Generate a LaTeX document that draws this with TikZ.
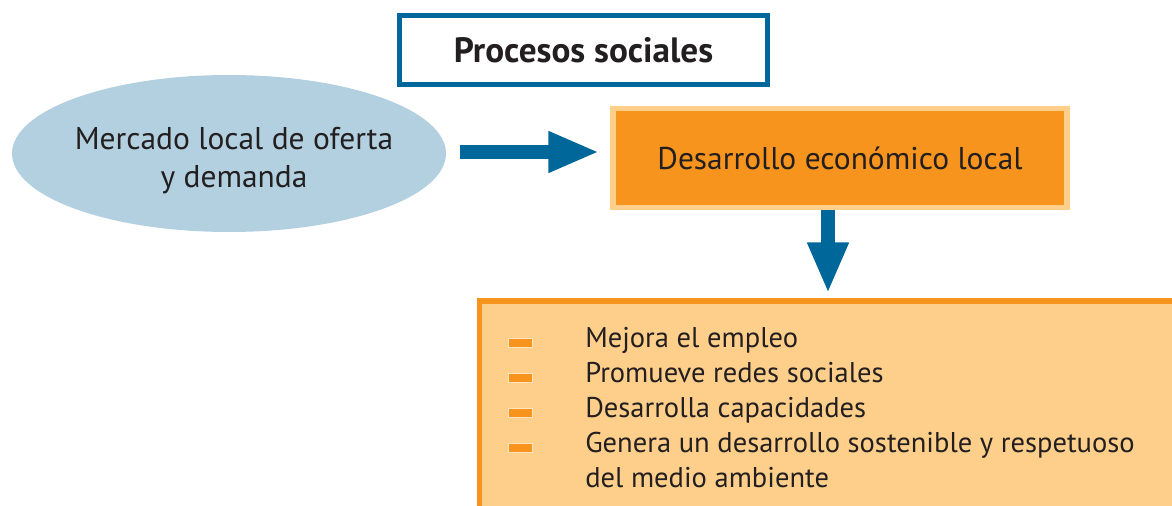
\documentclass[tikz,border=0pt]{standalone}
\usepackage{fontspec}
\setmainfont{PT Sans}
\usetikzlibrary{shapes.geometric,arrows.meta}
\definecolor{procblue}{RGB}{0,103,154}
\definecolor{skyblue}{RGB}{179,208,224}
\definecolor{deeporange}{RGB}{247,148,30}
\definecolor{paleorange}{RGB}{253,207,138}
\definecolor{inkgrey}{RGB}{35,31,32}
\tikzset{
  bigarrow/.style={draw=procblue,line width=10.5pt,-{Triangle[length=38.25pt,width=28.5pt]}},
  itembar/.style={rectangle,fill=deeporange,draw=white!45!paleorange,line width=0.6pt,
    minimum width=18pt,minimum height=6.75pt,inner sep=0pt},
  itemtext/.style={anchor=base west,inner sep=0pt,text=inkgrey,font=\fontsize{21.4pt}{26pt}\selectfont}
}
\begin{document}
\begin{tikzpicture}[x=0.75pt,y=-0.75pt]
    \useasboundingbox (0,0) rectangle (1172,506);
    \clip (0,0) rectangle (1172,506);

    \node[draw=procblue,line width=3.75pt,fill=white,minimum width=276pt,minimum height=51.75pt,
      inner sep=0pt,text=inkgrey,font=\bfseries\fontsize{26.4pt}{32pt}\selectfont] (title) at (583.5,50) {Procesos sociales};
    \node[ellipse,fill=skyblue,minimum width=325.5pt,minimum height=117.75pt,inner sep=0pt] (market) at (229,153.5) {};
    \node[align=center,inner sep=0pt,text=inkgrey,font=\fontsize{23.6pt}{28.5pt}\selectfont]
      (marketlabel) at (234,161) {Mercado local de oferta\\y demanda};
    \node[fill=deeporange,draw=paleorange,line width=4pt,minimum width=340.5pt,minimum height=74.25pt,
      inner sep=0pt,text=inkgrey,font=\fontsize{23.6pt}{28.5pt}\selectfont] (devel) at (840,158) {Desarrollo económico local};
    \node[fill=paleorange,draw=deeporange,line width=4pt,anchor=north west,minimum width=530pt,
      minimum height=170pt] (effects) at (477,298.5) {};

    % arrows
    \coordinate (midrow) at (0,152);
    \coordinate (downcol) at (828,0);
    \draw[bigarrow,shorten <=10.5pt,shorten >=8.25pt] (market.east |- midrow) -- (devel.west |- midrow);
    \draw[bigarrow,shorten >=3.75pt] (devel.south -| downcol) -- (effects.north -| downcol);

    % list of effects
    \node[itembar] (bar1) at (520,342.5) {};
    \node[itembar] (bar2) at (520,377.5) {};
    \node[itembar] (bar3) at (520,412.5) {};
    \node[itembar] (bar4) at (520,447.5) {};
    \node[itemtext] (item1) at (585,347) {Mejora el empleo};
    \node[itemtext] (item2) at (585,382) {Promueve redes sociales};
    \node[itemtext] (item3) at (585,417) {Desarrolla capacidades};
    \node[itemtext] (item4) at (585,452) {Genera un desarrollo sostenible y respetuoso};
    \node[itemtext] (item5) at (585,487) {del medio ambiente};
  \end{tikzpicture}
\end{document}
